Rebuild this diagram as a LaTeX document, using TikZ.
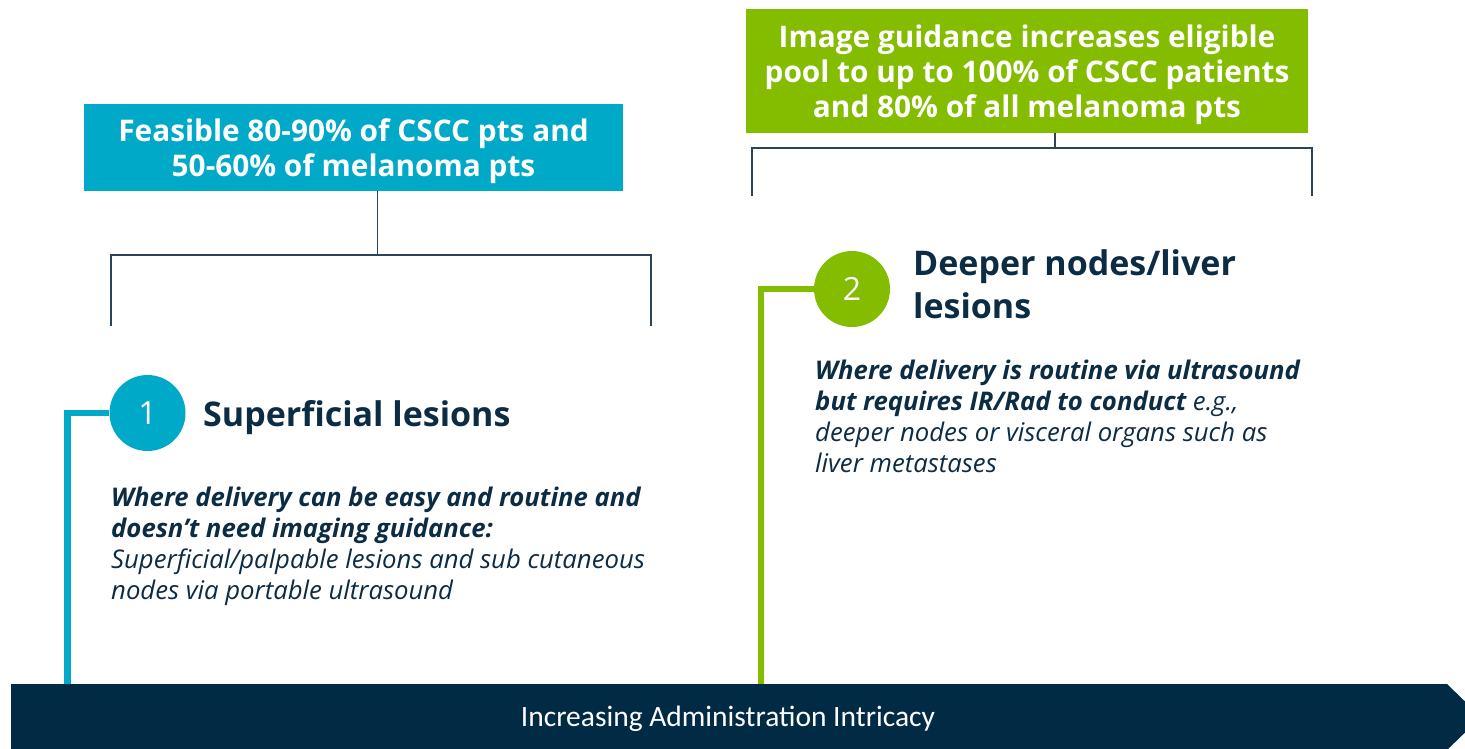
\documentclass[tikz,border=0pt]{standalone}
\usepackage{fontspec}
\setmainfont{Open Sans}
\newfontfamily\calib{Carlito}
\definecolor{cyanc}{HTML}{00A9C8}
\definecolor{greenc}{HTML}{84BD00}
\definecolor{navyc}{HTML}{012A44}
\definecolor{textc}{HTML}{0C2C44}
\definecolor{brackc}{HTML}{2E4356}
\begin{document}
\begin{tikzpicture}[x=1pt,y=-1pt,
  hdrbox/.style={inner sep=0, align=center, text=white, font=\bfseries\fontsize{29.8}{35}\selectfont},
  numcirc/.style={circle, minimum size=76pt, inner sep=0, text=white, font=\fontsize{32}{32}\selectfont},
  ttl/.style={anchor=base west, inner sep=0, align=left, text=textc, font=\bfseries\fontsize{34}{43}\selectfont},
  para/.style={anchor=base west, inner sep=0, align=left, text=textc, font=\itshape\fontsize{25.7}{31}\selectfont},
  brack/.style={draw=brackc, line width=1.5pt},
  conn/.style={line width=6.5pt}]
\useasboundingbox (0,0) rectangle (1465,748);
% bottom bar
\fill[navyc] (11,684) -- (1447,684) -- (1481,717) -- (1447,750) -- (11,750) -- cycle;
\node[text=white, font=\calib\fontsize{29.5}{32}\selectfont] (bar) at (728,719) {Increasing Administration Intricacy};
\coordinate (barL) at (67.5,684);
\coordinate (barR) at (761,684);
% blue box
\fill[cyanc] (84,104) rectangle (623,191);
\node[hdrbox] (btxt) at (353.5,151) {Feasible 80-90\% of CSCC pts and\\50-60\% of melanoma pts};
\coordinate (bbot) at (377.5,191);
\coordinate (bmid) at (377.5,255);
\draw[brack] (bbot) -- (bmid);
\draw[brack] (111,326) -- (111,255) -- (651,255) -- (651,326);
% green box
\fill[greenc] (746,9) rectangle (1308,133);
\node[hdrbox] (gtxt) at (1027,75) {Image guidance increases eligible\\pool to up to 100\% of CSCC patients\\and 80\% of all melanoma pts};
\coordinate (gbot) at (1055,133);
\coordinate (gmid) at (1055,148);
\draw[brack] (gbot) -- (gmid);
\draw[brack] (752,196) -- (752,148) -- (1312,148) -- (1312,196);
% item 1
\node[numcirc, fill=cyanc] (c1) at (147.5,413) {1};
\draw[conn, draw=cyanc] (c1.west) -- (67.5,413) -- (barL);
\node[ttl] (t1) at (203,426) {Superficial lesions};
\node[para] (p1) at (111,599) {\bfseries Where delivery can be easy and routine and\\\bfseries doesn’t need imaging guidance:\\Superficial/palpable lesions and sub cutaneous\\nodes via portable ultrasound};
% item 2
\node[numcirc, fill=greenc] (c2) at (852,289) {2};
\draw[conn, draw=greenc] (c2.west) -- (761,289) -- (barR);
\node[ttl] (t2) at (913,318) {Deeper nodes/liver\\lesions};
\node[para] (p2) at (815,472) {\bfseries Where delivery is routine via ultrasound\\\bfseries but requires IR/Rad to conduct\mdseries{} e.g.,\\deeper nodes or visceral organs such as\\liver metastases};
\end{tikzpicture}
\end{document}
